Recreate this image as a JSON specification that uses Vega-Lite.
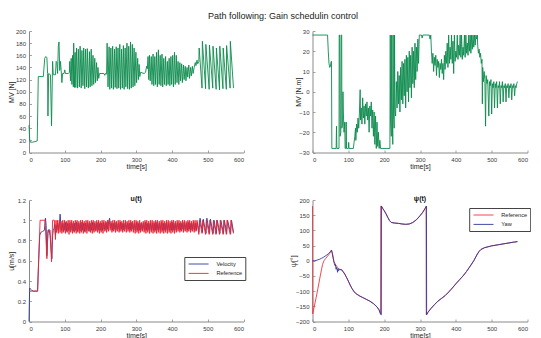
{
"$schema": "https://vega.github.io/schema/vega-lite/v6.json",
"padding": {"left": 7, "top": 12, "right": 0, "bottom": 0},
"autosize": {"type": "pad"},
"title": {"text": "Path following: Gain schedulin control", "fontSize": 9, "fontWeight": "normal", "color": "#222222", "anchor": "middle", "offset": 8, "dx": 14, "dy": 1, "font": "Liberation Sans"},
"config": {
 "font": "Liberation Sans",
 "view": {"stroke": null},
 "axis": {"grid": false, "domainColor": "#8a8a8a", "domainWidth": 1, "tickColor": "#8a8a8a", "tickSize": -2.5, "tickWidth": 0.8, "labelFontSize": 6, "labelColor": "#3a3a3a", "labelPadding": 6, "titleFontSize": 7, "titleFontWeight": "normal", "titleColor": "#262626"},
 "axisY": {"titleBaseline": "middle"},
 "axisX": {"titleBaseline": "top"},
 "legend": {"orient": "none", "title": null, "symbolType": "M-2.5,0L2.5,0", "symbolSize": 64, "symbolStrokeWidth": 1.2, "symbolOffset": 7.3, "labelFontSize": 5.6, "labelColor": "#222222", "strokeColor": "#444444", "fillColor": "#ffffff", "padding": 2.5, "rowPadding": 0.4, "labelOffset": 13.3},
 "line": {"strokeWidth": 0.9}
},
"datasets": {
"mvn": [{"t":0,"v":45},{"t":2,"v":20},{"t":4,"v":17},{"t":10,"v":17},{"t":23,"v":19},{"t":26,"v":125},{"t":40,"v":125},{"t":44,"v":155},{"t":47,"v":158},{"t":50,"v":156},{"t":52,"v":130},{"t":53,"v":60},{"t":55,"v":130},{"t":60,"v":128},{"t":63,"v":44},{"t":66,"v":150},{"t":68,"v":128},{"t":74,"v":128},{"t":76,"v":150},{"t":78,"v":148},{"t":80,"v":130},{"t":82,"v":175},{"t":84,"v":182},{"t":86,"v":135},{"t":88,"v":150},{"t":90,"v":135},{"t":92,"v":115},{"t":94,"v":130},{"t":98,"v":130},{"t":100,"v":136},{"t":102,"v":130},{"t":110,"v":130},{"t":113,"v":132},{"t":114,"v":150},{"t":116,"v":118},{"t":118,"v":155},{"t":120,"v":112},{"t":122,"v":160},{"t":124,"v":108},{"t":125,"v":180},{"t":127,"v":107},{"t":129,"v":165},{"t":131,"v":107},{"t":133,"v":172},{"t":136,"v":106},{"t":138,"v":170},{"t":141,"v":108},{"t":143,"v":175},{"t":146,"v":106},{"t":148,"v":168},{"t":151,"v":110},{"t":153,"v":172},{"t":156,"v":105},{"t":158,"v":170},{"t":161,"v":108},{"t":163,"v":171},{"t":166,"v":106},{"t":169,"v":166},{"t":171,"v":108},{"t":174,"v":170},{"t":176,"v":110},{"t":179,"v":160},{"t":181,"v":112},{"t":184,"v":155},{"t":186,"v":115},{"t":189,"v":148},{"t":191,"v":118},{"t":193,"v":140},{"t":195,"v":122},{"t":197,"v":130},{"t":210,"v":130},{"t":212,"v":127},{"t":214,"v":130},{"t":217,"v":129},{"t":218.5,"v":180},{"t":221,"v":108},{"t":224,"v":174},{"t":226,"v":104},{"t":229,"v":172},{"t":231,"v":106},{"t":234,"v":175},{"t":236,"v":104},{"t":239,"v":170},{"t":241,"v":107},{"t":244,"v":174},{"t":246,"v":105},{"t":249,"v":172},{"t":251,"v":106},{"t":254,"v":178},{"t":256,"v":104},{"t":259,"v":170},{"t":261,"v":106},{"t":264,"v":176},{"t":266,"v":104},{"t":269,"v":172},{"t":271,"v":108},{"t":274,"v":180},{"t":276,"v":105},{"t":279,"v":175},{"t":281,"v":104},{"t":284,"v":182},{"t":286,"v":106},{"t":289,"v":178},{"t":291,"v":108},{"t":294,"v":172},{"t":296,"v":110},{"t":299,"v":165},{"t":301,"v":115},{"t":304,"v":155},{"t":306,"v":120},{"t":308,"v":145},{"t":310,"v":125},{"t":312,"v":132},{"t":322,"v":130},{"t":326,"v":132},{"t":329,"v":142},{"t":331,"v":138},{"t":333,"v":158},{"t":335,"v":120},{"t":337,"v":160},{"t":339,"v":118},{"t":342,"v":158},{"t":344,"v":112},{"t":347,"v":162},{"t":349,"v":110},{"t":352,"v":158},{"t":354,"v":112},{"t":357,"v":165},{"t":359,"v":108},{"t":362,"v":169},{"t":364,"v":112},{"t":367,"v":160},{"t":369,"v":110},{"t":372,"v":162},{"t":374,"v":108},{"t":377,"v":155},{"t":379,"v":112},{"t":382,"v":158},{"t":384,"v":110},{"t":387,"v":150},{"t":389,"v":112},{"t":392,"v":155},{"t":394,"v":110},{"t":397,"v":158},{"t":399,"v":112},{"t":402,"v":160},{"t":404,"v":108},{"t":407,"v":165},{"t":409,"v":112},{"t":412,"v":160},{"t":414,"v":115},{"t":417,"v":150},{"t":419,"v":112},{"t":422,"v":148},{"t":424,"v":118},{"t":427,"v":146},{"t":429,"v":115},{"t":432,"v":144},{"t":434,"v":120},{"t":437,"v":142},{"t":439,"v":118},{"t":442,"v":140},{"t":444,"v":124},{"t":447,"v":144},{"t":449,"v":122},{"t":452,"v":140},{"t":454,"v":126},{"t":457,"v":142},{"t":459,"v":130},{"t":462,"v":140},{"t":465,"v":148},{"t":467,"v":143},{"t":470,"v":152},{"t":472,"v":146},{"t":475,"v":150},{"t":476,"v":172},{"t":484,"v":106},{"t":485,"v":183},{"t":494,"v":105},{"t":494.7,"v":178},{"t":504,"v":104},{"t":504.7,"v":177},{"t":514,"v":106},{"t":514.7,"v":175},{"t":523.5,"v":104},{"t":524.2,"v":172},{"t":533,"v":103},{"t":533.7,"v":175},{"t":542.5,"v":105},{"t":543.2,"v":172},{"t":552,"v":104},{"t":552.7,"v":176},{"t":562.5,"v":106},{"t":563.2,"v":183},{"t":572,"v":106}],
"mvnm": [{"t":0,"v":28},{"t":42,"v":28},{"t":44,"v":20},{"t":46,"v":14},{"t":48,"v":12},{"t":50,"v":12.5},{"t":52,"v":15},{"t":53,"v":15},{"t":54,"v":-28},{"t":66,"v":-28},{"t":67,"v":-17},{"t":68,"v":-28},{"t":74,"v":-28},{"t":74.5,"v":28},{"t":76,"v":28},{"t":77,"v":-22},{"t":79,"v":-20},{"t":80,"v":28},{"t":81.5,"v":28},{"t":82,"v":-18},{"t":84,"v":-16},{"t":85,"v":0},{"t":86,"v":-10},{"t":88,"v":-20},{"t":90,"v":-15},{"t":91,"v":-28},{"t":93,"v":-28},{"t":94,"v":-15},{"t":95,"v":-28},{"t":100,"v":-28},{"t":101,"v":-25},{"t":102,"v":-28},{"t":114,"v":-28},{"t":116,"v":-25},{"t":118,"v":-22},{"t":120,"v":-18},{"t":121,"v":-24},{"t":123,"v":-16},{"t":125,"v":-20},{"t":127,"v":-13},{"t":129,"v":-18},{"t":131,"v":-10},{"t":133,"v":1},{"t":134,"v":-14},{"t":136,"v":-8},{"t":138,"v":-16},{"t":140,"v":-3},{"t":142,"v":-13},{"t":144,"v":-7},{"t":146,"v":-16},{"t":148,"v":-6},{"t":150,"v":-12},{"t":152,"v":-5},{"t":154,"v":-14},{"t":156,"v":-8},{"t":158,"v":-20},{"t":160,"v":-7},{"t":162,"v":-12},{"t":164,"v":-5},{"t":166,"v":-18},{"t":168,"v":-9},{"t":170,"v":-22},{"t":172,"v":-10},{"t":174,"v":-26},{"t":176,"v":-12},{"t":178,"v":-28},{"t":180,"v":-15},{"t":182,"v":-27},{"t":184,"v":-20},{"t":186,"v":-28},{"t":188,"v":-24},{"t":190,"v":-28},{"t":216,"v":-28},{"t":217,"v":28},{"t":218,"v":-15},{"t":220,"v":-22},{"t":221,"v":28},{"t":222,"v":-5},{"t":224,"v":-26},{"t":225,"v":28},{"t":226,"v":-10},{"t":228,"v":-18},{"t":229,"v":28},{"t":230,"v":-8},{"t":232,"v":-12},{"t":234,"v":5},{"t":236,"v":-8},{"t":238,"v":10},{"t":240,"v":-6},{"t":242,"v":8},{"t":244,"v":-10},{"t":246,"v":12},{"t":248,"v":-4},{"t":250,"v":15},{"t":252,"v":-6},{"t":254,"v":14},{"t":256,"v":-2},{"t":258,"v":16},{"t":260,"v":-8},{"t":262,"v":18},{"t":264,"v":0},{"t":266,"v":17},{"t":268,"v":-5},{"t":270,"v":20},{"t":272,"v":2},{"t":274,"v":18},{"t":276,"v":-3},{"t":278,"v":22},{"t":280,"v":4},{"t":282,"v":20},{"t":284,"v":2},{"t":286,"v":24},{"t":288,"v":6},{"t":290,"v":22},{"t":292,"v":10},{"t":294,"v":26},{"t":296,"v":14},{"t":298,"v":28},{"t":304,"v":28},{"t":306,"v":26.5},{"t":308,"v":28},{"t":326,"v":28},{"t":328,"v":26},{"t":330,"v":28},{"t":332,"v":20},{"t":334,"v":14},{"t":336,"v":19},{"t":338,"v":10},{"t":340,"v":17},{"t":342,"v":13},{"t":344,"v":18},{"t":346,"v":8},{"t":348,"v":16},{"t":350,"v":12},{"t":352,"v":15},{"t":354,"v":7},{"t":356,"v":14},{"t":358,"v":11},{"t":360,"v":16},{"t":362,"v":9},{"t":364,"v":14},{"t":366,"v":6},{"t":368,"v":18},{"t":370,"v":11},{"t":372,"v":20},{"t":374,"v":14},{"t":376,"v":24},{"t":378,"v":12},{"t":380,"v":28},{"t":382,"v":14},{"t":384,"v":22},{"t":386,"v":16},{"t":388,"v":28},{"t":390,"v":14},{"t":392,"v":25},{"t":394,"v":9},{"t":396,"v":28},{"t":398,"v":15},{"t":400,"v":20},{"t":402,"v":17},{"t":404,"v":28},{"t":406,"v":16},{"t":408,"v":23},{"t":410,"v":18},{"t":412,"v":28},{"t":414,"v":17},{"t":416,"v":28},{"t":418,"v":16},{"t":420,"v":22},{"t":422,"v":18},{"t":424,"v":28},{"t":426,"v":17},{"t":428,"v":28},{"t":430,"v":19},{"t":432,"v":24},{"t":434,"v":18},{"t":436,"v":28},{"t":438,"v":20},{"t":440,"v":28},{"t":442,"v":19},{"t":444,"v":28},{"t":446,"v":21},{"t":448,"v":28},{"t":450,"v":22},{"t":452,"v":28},{"t":454,"v":23},{"t":456,"v":28},{"t":458,"v":26},{"t":460,"v":28},{"t":461,"v":23},{"t":463,"v":19},{"t":465,"v":21},{"t":467,"v":17},{"t":469,"v":19},{"t":471,"v":14},{"t":473,"v":16},{"t":474,"v":-6},{"t":475,"v":12},{"t":477,"v":5},{"t":479,"v":10},{"t":481,"v":6},{"t":483,"v":-17},{"t":484.5,"v":8},{"t":487,"v":4},{"t":489,"v":6},{"t":492,"v":-12},{"t":494,"v":5},{"t":496,"v":3},{"t":498,"v":6},{"t":500,"v":-11},{"t":502,"v":4},{"t":504,"v":2},{"t":506,"v":5},{"t":508,"v":-8},{"t":510,"v":4},{"t":512,"v":2},{"t":514,"v":5},{"t":516,"v":-8},{"t":518,"v":3},{"t":520,"v":2},{"t":522,"v":5},{"t":524,"v":-6},{"t":526,"v":3},{"t":528,"v":2},{"t":530,"v":5},{"t":532,"v":-5},{"t":534,"v":3},{"t":536,"v":2},{"t":538,"v":4},{"t":540,"v":-5},{"t":542,"v":3},{"t":544,"v":2},{"t":546,"v":4},{"t":548,"v":-3},{"t":550,"v":3},{"t":552,"v":2},{"t":554,"v":4},{"t":556,"v":-4},{"t":558,"v":3},{"t":560,"v":2},{"t":562,"v":4},{"t":564,"v":-2},{"t":566,"v":3},{"t":568,"v":2},{"t":570,"v":4},{"t":572,"v":5}],
"uvel": [{"t":0,"v":0},{"t":1,"v":0.2},{"t":2,"v":0.33},{"t":4,"v":0.32},{"t":7,"v":0.31},{"t":12,"v":0.3},{"t":24,"v":0.3},{"t":27,"v":0.6},{"t":30,"v":0.85},{"t":33,"v":0.88},{"t":38,"v":0.89},{"t":43,"v":0.9},{"t":46,"v":1.02},{"t":48,"v":0.95},{"t":50,"v":0.65},{"t":53,"v":0.88},{"t":56,"v":0.91},{"t":59,"v":0.85},{"t":62,"v":0.7},{"t":64,"v":0.62},{"t":66,"v":0.85},{"t":68,"v":0.9},{"t":70,"v":0.92},{"t":72,"v":0.96},{"t":74,"v":0.85},{"t":76,"v":0.95},{"t":78,"v":0.9},{"t":80.5,"v":0.97},{"t":83,"v":0.9},{"t":85.5,"v":0.98},{"t":87,"v":1.06},{"t":90.5,"v":0.9},{"t":93,"v":0.97},{"t":95.5,"v":0.89},{"t":98,"v":0.97},{"t":100.5,"v":0.9},{"t":103,"v":0.98},{"t":105.5,"v":0.89},{"t":108,"v":0.97},{"t":110.5,"v":0.9},{"t":113,"v":0.97},{"t":115.5,"v":0.89},{"t":118,"v":0.98},{"t":120.5,"v":0.9},{"t":123,"v":0.97},{"t":125.5,"v":0.89},{"t":128,"v":0.97},{"t":130.5,"v":0.9},{"t":133,"v":0.98},{"t":135.5,"v":0.89},{"t":138,"v":0.97},{"t":140.5,"v":0.9},{"t":143,"v":0.97},{"t":145.5,"v":0.89},{"t":148,"v":0.98},{"t":150.5,"v":0.9},{"t":153,"v":0.97},{"t":155.5,"v":0.89},{"t":158,"v":0.97},{"t":160.5,"v":0.9},{"t":163,"v":0.98},{"t":165.5,"v":0.9},{"t":168,"v":0.97},{"t":170.5,"v":0.89},{"t":173,"v":0.97},{"t":175.5,"v":0.9},{"t":178,"v":0.98},{"t":180.5,"v":0.9},{"t":183,"v":0.97},{"t":185.5,"v":0.9},{"t":188,"v":0.97},{"t":190.5,"v":0.9},{"t":193,"v":0.98},{"t":195.5,"v":0.9},{"t":198,"v":0.97},{"t":200.5,"v":0.9},{"t":203,"v":0.97},{"t":205.5,"v":0.9},{"t":208,"v":0.98},{"t":210.5,"v":0.91},{"t":213,"v":0.97},{"t":215.5,"v":0.9},{"t":218,"v":0.98},{"t":220.5,"v":0.91},{"t":223,"v":0.99},{"t":225.5,"v":1.02},{"t":228,"v":0.92},{"t":230.5,"v":0.97},{"t":233,"v":0.9},{"t":235.5,"v":0.97},{"t":238,"v":0.91},{"t":240.5,"v":0.98},{"t":243,"v":0.9},{"t":245.5,"v":0.97},{"t":248,"v":0.91},{"t":250.5,"v":0.97},{"t":253,"v":0.9},{"t":255.5,"v":0.98},{"t":258,"v":0.91},{"t":260.5,"v":0.97},{"t":263,"v":0.9},{"t":265.5,"v":0.97},{"t":268,"v":0.91},{"t":270.5,"v":0.98},{"t":273,"v":0.9},{"t":275.5,"v":0.97},{"t":278,"v":0.91},{"t":280.5,"v":0.97},{"t":283,"v":0.9},{"t":285.5,"v":0.98},{"t":288,"v":0.91},{"t":290.5,"v":0.97},{"t":293,"v":0.9},{"t":295.5,"v":0.97},{"t":298,"v":0.9},{"t":300.5,"v":0.98},{"t":303,"v":0.9},{"t":305.5,"v":0.97},{"t":308,"v":0.9},{"t":310.5,"v":0.97},{"t":313,"v":0.9},{"t":315.5,"v":0.97},{"t":318,"v":0.91},{"t":320.5,"v":0.97},{"t":323,"v":0.9},{"t":325.5,"v":0.98},{"t":328,"v":0.9},{"t":330.5,"v":0.97},{"t":333,"v":0.9},{"t":335.5,"v":0.97},{"t":338,"v":0.9},{"t":340.5,"v":0.98},{"t":343,"v":0.9},{"t":345.5,"v":0.97},{"t":348,"v":0.9},{"t":350.5,"v":0.97},{"t":353,"v":0.9},{"t":355.5,"v":0.98},{"t":358,"v":0.9},{"t":360.5,"v":0.97},{"t":363,"v":0.9},{"t":365.5,"v":0.97},{"t":368,"v":0.9},{"t":370.5,"v":0.98},{"t":373,"v":0.9},{"t":375.5,"v":0.97},{"t":378,"v":0.9},{"t":380.5,"v":0.97},{"t":383,"v":0.9},{"t":385.5,"v":0.98},{"t":388,"v":0.9},{"t":390.5,"v":0.97},{"t":393,"v":0.9},{"t":395.5,"v":0.97},{"t":398,"v":0.9},{"t":400.5,"v":0.98},{"t":403,"v":0.9},{"t":405.5,"v":0.97},{"t":408,"v":0.9},{"t":410.5,"v":0.97},{"t":413,"v":0.9},{"t":415.5,"v":0.98},{"t":418,"v":0.91},{"t":420.5,"v":0.97},{"t":423,"v":0.9},{"t":425.5,"v":0.97},{"t":428,"v":0.91},{"t":430.5,"v":0.98},{"t":433,"v":0.9},{"t":435.5,"v":0.97},{"t":438,"v":0.91},{"t":440.5,"v":0.97},{"t":443,"v":0.9},{"t":445.5,"v":0.98},{"t":448,"v":0.91},{"t":450.5,"v":0.97},{"t":453,"v":0.9},{"t":455.5,"v":0.97},{"t":458,"v":0.91},{"t":460.5,"v":0.98},{"t":463,"v":0.9},{"t":465.5,"v":0.97},{"t":468,"v":0.9},{"t":471,"v":0.98},{"t":475,"v":0.88},{"t":478.5,"v":1.02},{"t":485,"v":0.88},{"t":487.5,"v":1.01},{"t":495,"v":0.87},{"t":497.5,"v":1.02},{"t":505,"v":0.87},{"t":507.5,"v":1.01},{"t":515,"v":0.87},{"t":517.5,"v":1.0},{"t":524,"v":0.87},{"t":526.5,"v":1.0},{"t":534,"v":0.87},{"t":536.5,"v":1.0},{"t":544,"v":0.87},{"t":546.5,"v":1.0},{"t":553,"v":0.87},{"t":555.5,"v":1.0},{"t":564,"v":0.87},{"t":566.5,"v":1.0},{"t":572,"v":0.88}],
"uref": [{"t":0,"v":0.3},{"t":24,"v":0.3},{"t":31,"v":1.0},{"t":45,"v":1.0},{"t":50,"v":0.62},{"t":53,"v":0.9},{"t":56,"v":0.88},{"t":59,"v":0.9},{"t":63,"v":0.59},{"t":66,"v":1.0},{"t":71,"v":1.0},{"t":74,"v":0.81},{"t":75.5,"v":1.0},{"t":77,"v":0.88},{"t":79.5,"v":1.0},{"t":82,"v":0.87},{"t":84.5,"v":1.0},{"t":87,"v":0.88},{"t":89.5,"v":0.99},{"t":92,"v":0.87},{"t":94.5,"v":1.0},{"t":97,"v":0.88},{"t":99.5,"v":1.0},{"t":102,"v":0.87},{"t":104.5,"v":0.99},{"t":107,"v":0.88},{"t":109.5,"v":1.0},{"t":112,"v":0.86},{"t":114.5,"v":1.0},{"t":117,"v":0.88},{"t":119.5,"v":1.0},{"t":122,"v":0.87},{"t":124.5,"v":0.99},{"t":127,"v":0.88},{"t":129.5,"v":1.0},{"t":132,"v":0.87},{"t":134.5,"v":1.0},{"t":137,"v":0.88},{"t":139.5,"v":0.99},{"t":142,"v":0.87},{"t":144.5,"v":1.0},{"t":147,"v":0.88},{"t":149.5,"v":1.0},{"t":152,"v":0.87},{"t":154.5,"v":0.99},{"t":157,"v":0.88},{"t":159.5,"v":1.0},{"t":162,"v":0.87},{"t":164.5,"v":1.0},{"t":167,"v":0.89},{"t":169.5,"v":0.99},{"t":172,"v":0.88},{"t":174.5,"v":1.0},{"t":177,"v":0.87},{"t":179.5,"v":1.0},{"t":182,"v":0.88},{"t":184.5,"v":0.99},{"t":187,"v":0.89},{"t":189.5,"v":1.0},{"t":192,"v":0.88},{"t":194.5,"v":1.0},{"t":197,"v":0.87},{"t":199.5,"v":0.99},{"t":202,"v":0.88},{"t":204.5,"v":1.0},{"t":207,"v":0.87},{"t":209.5,"v":1.0},{"t":212,"v":0.89},{"t":214.5,"v":0.99},{"t":217,"v":0.88},{"t":219.5,"v":1.0},{"t":222,"v":0.89},{"t":224.5,"v":1.0},{"t":227,"v":0.9},{"t":229.5,"v":0.99},{"t":232,"v":0.88},{"t":234.5,"v":1.0},{"t":237,"v":0.89},{"t":239.5,"v":1.0},{"t":242,"v":0.88},{"t":244.5,"v":0.99},{"t":247,"v":0.89},{"t":249.5,"v":1.0},{"t":252,"v":0.88},{"t":254.5,"v":1.0},{"t":257,"v":0.89},{"t":259.5,"v":0.99},{"t":262,"v":0.88},{"t":264.5,"v":1.0},{"t":267,"v":0.89},{"t":269.5,"v":1.0},{"t":272,"v":0.88},{"t":274.5,"v":0.99},{"t":277,"v":0.89},{"t":279.5,"v":1.0},{"t":282,"v":0.88},{"t":284.5,"v":1.0},{"t":287,"v":0.89},{"t":289.5,"v":0.99},{"t":292,"v":0.88},{"t":294.5,"v":1.0},{"t":297,"v":0.87},{"t":299.5,"v":1.0},{"t":302,"v":0.88},{"t":304.5,"v":0.99},{"t":307,"v":0.87},{"t":309.5,"v":1.0},{"t":312,"v":0.88},{"t":314.5,"v":0.98},{"t":317,"v":0.89},{"t":319.5,"v":0.99},{"t":322,"v":0.88},{"t":324.5,"v":1.0},{"t":327,"v":0.87},{"t":329.5,"v":1.0},{"t":332,"v":0.88},{"t":334.5,"v":0.99},{"t":337,"v":0.87},{"t":339.5,"v":1.0},{"t":342,"v":0.88},{"t":344.5,"v":1.0},{"t":347,"v":0.87},{"t":349.5,"v":0.99},{"t":352,"v":0.88},{"t":354.5,"v":1.0},{"t":357,"v":0.87},{"t":359.5,"v":1.0},{"t":362,"v":0.88},{"t":364.5,"v":0.99},{"t":367,"v":0.87},{"t":369.5,"v":1.0},{"t":372,"v":0.88},{"t":374.5,"v":1.0},{"t":377,"v":0.87},{"t":379.5,"v":0.99},{"t":382,"v":0.88},{"t":384.5,"v":1.0},{"t":387,"v":0.87},{"t":389.5,"v":1.0},{"t":392,"v":0.88},{"t":394.5,"v":0.99},{"t":397,"v":0.87},{"t":399.5,"v":1.0},{"t":402,"v":0.88},{"t":404.5,"v":1.0},{"t":407,"v":0.87},{"t":409.5,"v":0.99},{"t":412,"v":0.88},{"t":414.5,"v":1.0},{"t":417,"v":0.89},{"t":419.5,"v":1.0},{"t":422,"v":0.88},{"t":424.5,"v":0.99},{"t":427,"v":0.89},{"t":429.5,"v":1.0},{"t":432,"v":0.88},{"t":434.5,"v":1.0},{"t":437,"v":0.89},{"t":439.5,"v":0.99},{"t":442,"v":0.88},{"t":444.5,"v":1.0},{"t":447,"v":0.89},{"t":449.5,"v":1.0},{"t":452,"v":0.88},{"t":454.5,"v":0.99},{"t":457,"v":0.89},{"t":459.5,"v":1.0},{"t":462,"v":0.88},{"t":464.5,"v":1.0},{"t":467,"v":0.89},{"t":470,"v":1.0},{"t":475,"v":0.86},{"t":477,"v":1.0},{"t":484,"v":0.87},{"t":486,"v":1.0},{"t":494,"v":0.86},{"t":496,"v":1.0},{"t":504,"v":0.86},{"t":506,"v":1.0},{"t":514,"v":0.86},{"t":516,"v":1.0},{"t":523,"v":0.86},{"t":525,"v":1.0},{"t":533,"v":0.86},{"t":535,"v":1.0},{"t":543,"v":0.86},{"t":545,"v":1.0},{"t":552,"v":0.86},{"t":554,"v":1.0},{"t":563,"v":0.86},{"t":565,"v":1.0},{"t":572,"v":0.87}],
"psiref": [{"t":0,"v":180},{"t":0.6,"v":-175},{"t":5,"v":-150},{"t":10,"v":-122},{"t":15,"v":-92},{"t":20,"v":-60},{"t":25,"v":-30},{"t":28,"v":-12},{"t":32,"v":0},{"t":37,"v":8},{"t":42,"v":15},{"t":48,"v":24},{"t":53,"v":35},{"t":56,"v":22},{"t":60,"v":-3},{"t":65,"v":-14},{"t":70,"v":-22},{"t":75,"v":-28},{"t":80,"v":-30},{"t":85,"v":-35},{"t":90,"v":-44},{"t":95,"v":-55},{"t":100,"v":-67},{"t":105,"v":-80},{"t":110,"v":-91},{"t":115,"v":-100},{"t":120,"v":-107},{"t":130,"v":-115},{"t":140,"v":-121},{"t":150,"v":-127},{"t":160,"v":-133},{"t":170,"v":-141},{"t":180,"v":-152},{"t":186,"v":-162},{"t":189,"v":-172},{"t":190,"v":-176},{"t":190.5,"v":180},{"t":192,"v":180},{"t":196,"v":172},{"t":200,"v":165},{"t":205,"v":155},{"t":210,"v":143},{"t":215,"v":132},{"t":220,"v":126},{"t":230,"v":124},{"t":240,"v":123},{"t":250,"v":121},{"t":260,"v":120},{"t":270,"v":121},{"t":280,"v":126},{"t":290,"v":135},{"t":300,"v":148},{"t":308,"v":160},{"t":314,"v":172},{"t":317,"v":179},{"t":317.5,"v":-178},{"t":322,"v":-170},{"t":330,"v":-158},{"t":340,"v":-145},{"t":350,"v":-133},{"t":360,"v":-124},{"t":370,"v":-115},{"t":380,"v":-103},{"t":390,"v":-90},{"t":400,"v":-76},{"t":410,"v":-63},{"t":420,"v":-50},{"t":430,"v":-35},{"t":440,"v":-18},{"t":450,"v":0},{"t":460,"v":22},{"t":465,"v":31},{"t":470,"v":37},{"t":480,"v":43},{"t":490,"v":46},{"t":500,"v":49},{"t":520,"v":53},{"t":540,"v":57},{"t":560,"v":61},{"t":572,"v":63}],
"psiyaw": [{"t":0,"v":0},{"t":5,"v":0},{"t":10,"v":1},{"t":15,"v":3},{"t":20,"v":5},{"t":25,"v":8},{"t":30,"v":11},{"t":35,"v":15},{"t":40,"v":19},{"t":45,"v":24},{"t":50,"v":30},{"t":53,"v":35},{"t":55,"v":25},{"t":57,"v":12},{"t":59,"v":0},{"t":61,"v":-10},{"t":63,"v":-16},{"t":64,"v":-13},{"t":66,"v":-28},{"t":67,"v":-22},{"t":69,"v":-30},{"t":70,"v":-38},{"t":71,"v":-26},{"t":73,"v":-33},{"t":75,"v":-28},{"t":77,"v":-30},{"t":79,"v":-28},{"t":82,"v":-30},{"t":85,"v":-35},{"t":90,"v":-44},{"t":95,"v":-55},{"t":100,"v":-67},{"t":105,"v":-80},{"t":110,"v":-91},{"t":115,"v":-100},{"t":120,"v":-107},{"t":130,"v":-115},{"t":140,"v":-121},{"t":150,"v":-127},{"t":160,"v":-133},{"t":170,"v":-141},{"t":180,"v":-152},{"t":186,"v":-162},{"t":189,"v":-172},{"t":190,"v":-176},{"t":192,"v":-178},{"t":192.5,"v":180},{"t":196,"v":172},{"t":200,"v":165},{"t":205,"v":155},{"t":210,"v":143},{"t":215,"v":132},{"t":220,"v":126},{"t":230,"v":124},{"t":240,"v":123},{"t":250,"v":121},{"t":260,"v":120},{"t":270,"v":121},{"t":280,"v":126},{"t":290,"v":135},{"t":300,"v":148},{"t":308,"v":160},{"t":314,"v":172},{"t":318,"v":180},{"t":318.5,"v":-178},{"t":322,"v":-170},{"t":330,"v":-158},{"t":340,"v":-145},{"t":350,"v":-133},{"t":360,"v":-124},{"t":370,"v":-115},{"t":380,"v":-103},{"t":390,"v":-90},{"t":400,"v":-76},{"t":410,"v":-63},{"t":420,"v":-50},{"t":430,"v":-35},{"t":440,"v":-18},{"t":450,"v":0},{"t":460,"v":22},{"t":465,"v":31},{"t":470,"v":37},{"t":480,"v":43},{"t":490,"v":46},{"t":500,"v":49},{"t":520,"v":53},{"t":540,"v":57},{"t":560,"v":61},{"t":572,"v":63}]
},
"columns": 2,
"bounds": "flush",
"spacing": {"row": 47, "column": 68.5},
"resolve": {"scale": {"color": "independent"}, "legend": {"color": "independent"}},
"concat": [
  {"width": 214.5, "height": 121.5, "data": {"name": "mvn"},
   "mark": {"type": "line", "color": "#0b8a4c"},
   "encoding": {
    "x": {"field": "t", "type": "quantitative", "scale": {"domain": [0, 600], "nice": false}, "axis": {"values": [0,100,200,300,400,500,600], "title": "time[s]", "titleY": 9.5}},
    "y": {"field": "v", "type": "quantitative", "scale": {"domain": [0, 200], "nice": false}, "axis": {"values": [0,20,40,60,80,100,120,140,160,180,200], "title": "MV [N]", "titleX": -17.8, "titleY": 60.75}}
   }},
  {"width": 215, "height": 121.5, "data": {"name": "mvnm"},
   "mark": {"type": "line", "color": "#0b8a4c"},
   "encoding": {
    "x": {"field": "t", "type": "quantitative", "scale": {"domain": [0, 600], "nice": false}, "axis": {"values": [0,100,200,300,400,500,600], "title": "time[s]", "titleY": 9.5}},
    "y": {"field": "v", "type": "quantitative", "scale": {"domain": [-30, 30], "nice": false}, "axis": {"values": [-30,-20,-10,0,10,20,30], "title": "MV [N.m]", "titleX": -14.5, "titleY": 60.75}}
   }},
  {"width": 214.5, "height": 121.5,
   "title": {"text": "u(t)", "fontSize": 7, "fontWeight": "bold", "color": "#111111", "offset": 1, "dy": 6},
   "encoding": {
    "x": {"field": "t", "type": "quantitative", "scale": {"domain": [0, 600], "nice": false}, "axis": {"values": [0,100,200,300,400,500,600], "title": "time[s]", "titleY": 9.5}},
    "y": {"field": "v", "type": "quantitative", "scale": {"domain": [0, 1.2], "nice": false}, "axis": {"values": [0,0.2,0.4,0.6,0.8,1,1.2], "format": "~g", "title": "u[m/s]", "titleX": -17.8, "titleY": 60.75}}
   },
   "layer": [
    {"data": {"name": "uvel"}, "mark": {"type": "line"}, "encoding": {"color": {"datum": "Velocity", "type": "nominal", "scale": {"domain": ["Velocity", "Reference"], "range": ["#2b3a9a", "#ee2430"]}, "legend": {"legendX": 155.3, "legendY": 57}}}},
    {"data": {"name": "uref"}, "mark": {"type": "line"}, "encoding": {"color": {"datum": "Reference", "type": "nominal"}}}
   ]},
  {"width": 215, "height": 121.5,
   "title": {"text": "ψ(t)", "fontSize": 7, "fontWeight": "bold", "color": "#111111", "offset": 1, "dy": 6},
   "encoding": {
    "x": {"field": "t", "type": "quantitative", "scale": {"domain": [0, 600], "nice": false}, "axis": {"values": [0,100,200,300,400,500,600], "title": "time[s]", "titleY": 9.5}},
    "y": {"field": "v", "type": "quantitative", "scale": {"domain": [-200, 200], "nice": false}, "axis": {"values": [-200,-150,-100,-50,0,50,100,150,200], "title": "ψ[°]", "titleX": -19.5, "titleY": 60.75}}
   },
   "layer": [
    {"data": {"name": "psiref"}, "mark": {"type": "line"}, "encoding": {"color": {"datum": "Reference", "type": "nominal", "scale": {"domain": ["Reference", "Yaw"], "range": ["#ee3340", "#2b3a9a"]}, "legend": {"legendX": 156.7, "legendY": 8}}}},
    {"data": {"name": "psiyaw"}, "mark": {"type": "line"}, "encoding": {"color": {"datum": "Yaw", "type": "nominal"}}}
   ]}
]
}
